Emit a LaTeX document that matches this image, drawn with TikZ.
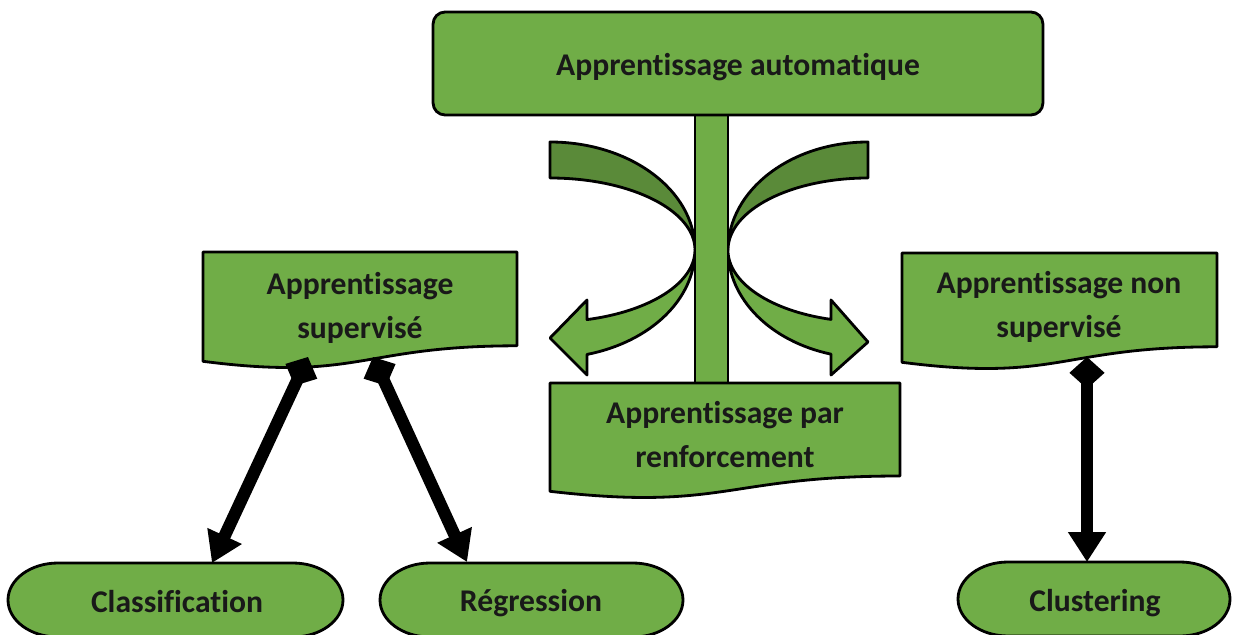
\documentclass[tikz,border=0pt]{standalone}
\usepackage{fontspec}
\setmainfont{Carlito}[Ligatures=NoCommon]
\usepackage{tikz}
\usetikzlibrary{arrows.meta}
\definecolor{mlgreen}{RGB}{112,173,71}
\definecolor{mldark}{RGB}{90,138,57}

\begin{document}
\begin{tikzpicture}[x=0.02cm, y=-0.02cm,
  shapeline/.style={draw=black, line width=1.6pt, fill=mlgreen, line join=round},
  lbl/.style={font=\fontsize{18}{25}\selectfont\bfseries, text=black!90, align=center, inner sep=0pt},
  link/.style={line width=7pt, {Diamond[length=18pt,width=20pt]}-{Triangle[length=17pt,width=20.5pt]}}]
\useasboundingbox (0,0) rectangle (1233,635);

\draw[shapeline, fill=mldark] (550,142) arc[start angle=-90, end angle=0, x radius=145, y radius=108]
  arc[start angle=0, end angle=-90, x radius=145, y radius=72] -- cycle;
\draw[shapeline] (695,250) arc[start angle=0, end angle=75.2, x radius=145, y radius=108]
  -- (587,375) -- (550,338) -- (587,300) -- (587,319.6)
  arc[start angle=75.2, end angle=0, x radius=145, y radius=72] -- cycle;
\draw[shapeline, fill=mldark] (868,142) arc[start angle=-90, end angle=-180, x radius=140, y radius=108]
  arc[start angle=180, end angle=270, x radius=140, y radius=72] -- cycle;
\draw[shapeline] (728,250) arc[start angle=180, end angle=105.3, x radius=140, y radius=108]
  -- (831,375) -- (868,342) -- (831,300) -- (831,319.4)
  arc[start angle=105.3, end angle=180, x radius=140, y radius=72] -- cycle;
\draw[shapeline] (695,115) rectangle (728,383);

\node[shapeline, rounded corners=0.24cm, minimum width=12.2cm, minimum height=2.06cm] (auto-box) at (738,63.5) {};
\node[lbl, anchor=base] (auto) at (738,76) {Apprentissage automatique};

\draw[shapeline] (203,252) -- (517,252) -- (517,345.8) .. controls (360,345.8) and (360,381.5) .. (203,361.3) -- cycle;
\node[lbl, anchor=base] (sup) at (360,338) {Apprentissage\\supervisé};

\draw[shapeline] (902,253) -- (1217,253) -- (1217,346.8) .. controls (1059.5,346.8) and (1059.5,382.5) .. (902,362.3) -- cycle;
\node[lbl, anchor=base] (nsup) at (1059,337) {Apprentissage non\\supervisé};

\draw[shapeline] (550,383) -- (900,383) -- (900,476) .. controls (725,476) and (725,511.4) .. (550,491.3) -- cycle;
\node[lbl, anchor=base] (renf) at (725,467) {Apprentissage par\\renforcement};

\draw[shapeline] (58,563) -- (293,563) arc[start angle=-90, end angle=90, x radius=50, y radius=37]
  -- (58,637) arc[start angle=90, end angle=270, x radius=50, y radius=37] -- cycle;
\node[lbl, anchor=base] (class) at (177,612) {Classification};

\draw[shapeline] (430,563) -- (633,563) arc[start angle=-90, end angle=90, x radius=50, y radius=37]
  -- (430,637) arc[start angle=90, end angle=270, x radius=50, y radius=37] -- cycle;
\node[lbl, anchor=base] (regr) at (531,611) {Régression};

\draw[shapeline] (1008,562) -- (1180,562) arc[start angle=-90, end angle=90, x radius=50, y radius=37]
  -- (1008,636) arc[start angle=90, end angle=270, x radius=50, y radius=37] -- cycle;
\node[lbl, anchor=base] (clust) at (1095,611) {Clustering};

\coordinate (sup-l) at (308,357);
\coordinate (class-in) at (212,563);
\coordinate (sup-r) at (373,357);
\coordinate (regr-in) at (467,562);
\coordinate (nsup-out) at (1087,357);
\coordinate (clust-in) at (1087,562);
\draw[link] (sup-l) -- (class-in);
\draw[link] (sup-r) -- (regr-in);
\draw[link] (nsup-out) -- (clust-in);
\end{tikzpicture}
\end{document}
